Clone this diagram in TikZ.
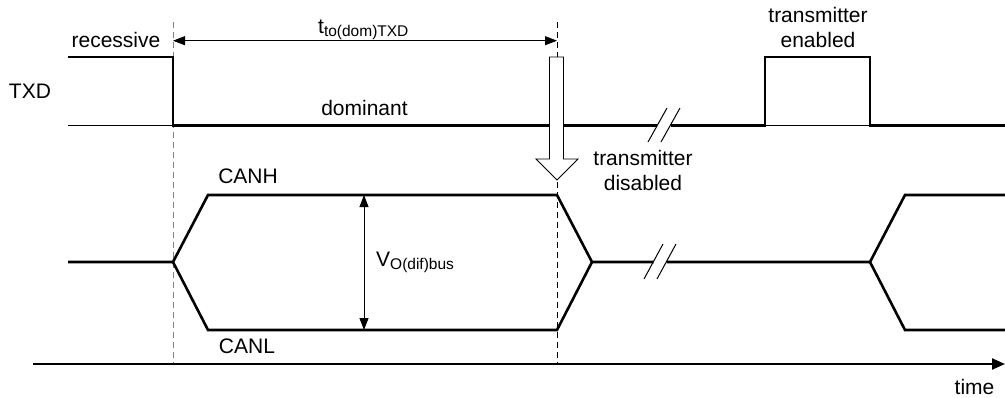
\documentclass[tikz,border=0pt]{standalone}
\usepackage{fontspec}
\setmainfont{Liberation Sans}
\usetikzlibrary{arrows.meta}

\newcommand{\subtxt}[1]{\raisebox{-3pt}{\fontsize{15.5}{16}\selectfont #1}}

\tikzset{
  sig/.style={line width=2.6pt, line join=miter},
  refline/.style={line width=0.9pt},
  brk/.style={line width=1pt},
  lbl/.style={font=\fontsize{21}{25}\selectfont, inner sep=0pt},
  dimarrow/.style={line width=0.9pt, {Triangle[length=12pt,width=9pt]}-{Triangle[length=12pt,width=9pt]}},
}

\begin{document}
\begin{tikzpicture}[x=1pt,y=-1pt]
                    \useasboundingbox (0,0) rectangle (1005,397);

                    % timing guides
                    \draw[gray, line width=1pt, dash pattern=on 6pt off 4pt] (173,22) -- (173,364);
                    \draw[line width=0.8pt, dash pattern=on 6pt off 4pt]     (557,22) -- (557,364);

                    % TXD
                    \draw[refline] (68,125.5) -- (173,125.5);
                    \draw[refline] (765,125.5) -- (870,125.5);
                    \draw[sig] (68,57) -- (173,57) -- (173,125.5) -- (657,125.5);
                    \draw[sig] (670.5,125.5) -- (765,125.5) -- (765,57) -- (870,57) -- (870,125.5) -- (1005,125.5);
                    \draw[brk] (648,142) -- (667,108) (661,142) -- (680,108);

                    % CANH / CANL
                    \draw[sig] (68,262) -- (173,262) -- (208,195) -- (557,195) -- (592,262) -- (653.5,262);
                    \draw[sig] (173,262) -- (208,330) -- (557,330) -- (592,262);
                    \draw[sig] (666.5,262) -- (870,262) -- (905,195) -- (1005,195);
                    \draw[sig] (870,262) -- (905,330) -- (1005,330);
                    \draw[brk] (644,279) -- (663,244) (657,279) -- (676,244);

                    % transmitter disabled arrow
                    \draw[fill=white, line width=0.8pt] (549.5,57) -- (563.5,57) -- (563.5,159) -- (578,159)
                          -- (557,180) -- (536,159) -- (549.5,159) -- cycle;

                    % time axis
                    \draw[line width=2.2pt, -{Triangle[length=13pt,width=11pt]}] (33,364) -- (1005,364);

                    % dimensions
                    \draw[dimarrow] (173,40.7) -- (557,40.7);
                    \draw[dimarrow] (364,195) -- (364,330);

                    \node[lbl, anchor=base]      (txd)  at (30,98)    {TXD};
                    \node[lbl, anchor=base]      (rec)  at (116,47)   {recessive};
                    \node[lbl, anchor=base]      (dom)  at (364.5,115) {dominant};
                    \node[lbl, anchor=base west] (tdom) at (318,33)   {t\subtxt{to(dom)TXD}};
                    \node[lbl, align=center]     (ten)  at (818,27.7) {transmitter\\enabled};
                    \node[lbl, align=center]     (tdis) at (643,170.6) {transmitter\\disabled};
                    \node[lbl, anchor=base]      (canh) at (248,183.3) {CANH};
                    \node[lbl, anchor=base]      (canl) at (247,353.3) {CANL};
                    \node[lbl, anchor=base west] (vod)  at (376,266)  {V\subtxt{O(dif)bus}};
                    \node[lbl, anchor=base]      (time) at (974.5,394) {time};

                \end{tikzpicture}
\end{document}
